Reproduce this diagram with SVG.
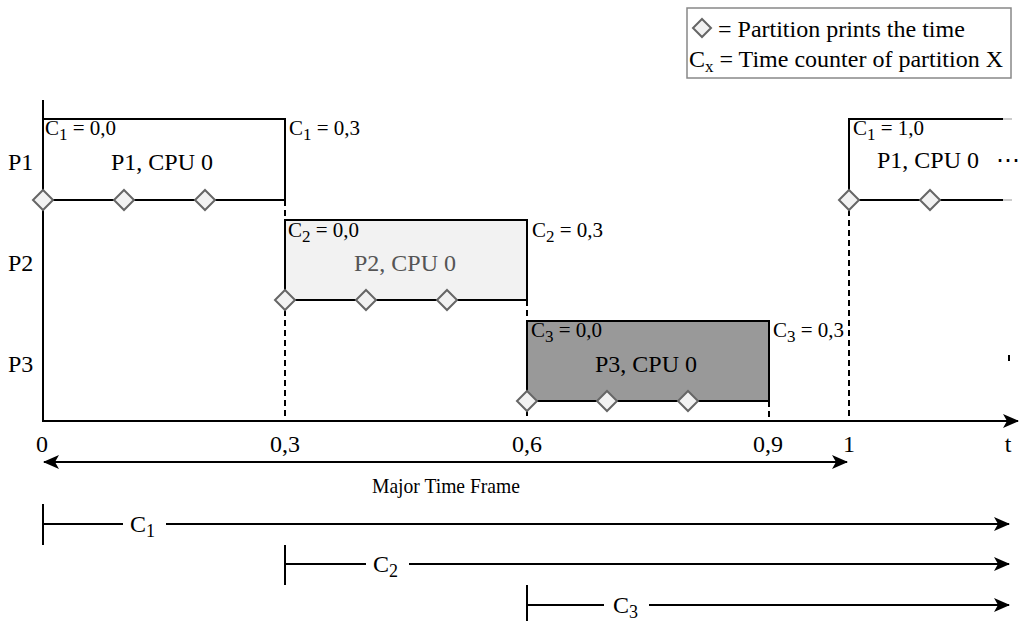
<svg xmlns="http://www.w3.org/2000/svg" width="1021" height="621" viewBox="0 0 1021 621">
<style>
text{font-family:"Liberation Serif","Times New Roman",serif;fill:#000}
.big{font-size:24px}
.sm{font-size:21px}
.mtf{font-size:22px}
.ln{stroke:#000;stroke-width:2;fill:none}
.dash{stroke:#000;stroke-width:2;stroke-dasharray:6 4;fill:none}
.dia{fill:#f2f2f2;stroke:#666;stroke-width:2}
</style>
<defs>
<marker id="ah" markerWidth="16" markerHeight="14" refX="15" refY="7" orient="auto-start-reverse" markerUnits="userSpaceOnUse">
<path d="M0,0 L16,7 L0,14 L4,7 z" fill="#000"/>
</marker>
<path id="d" d="M0,-10 L10,0 L0,10 L-10,0 z"/>
</defs>
<rect width="1021" height="621" fill="#fff"/>

<g id="legend">
<rect x="687" y="8" width="324" height="70" fill="#fff" stroke="#888" stroke-width="1.5"/>
<path class="dia" d="M702,19 L711,28 L702,37 L693,28 z"/>
<text class="big" x="718" y="37">= Partition prints the time</text>
<text class="big" x="689" y="67">C<tspan dy="5" font-size="17">x</tspan><tspan dy="-5"> = Time counter of partition X</tspan></text>
</g>

<g id="row-labels">
<text class="big" x="8" y="170">P1</text>
<text class="big" x="8" y="271">P2</text>
<text class="big" x="8" y="372">P3</text>
</g>

<g id="connectors">
<line class="dash" x1="285" y1="200" x2="285" y2="421"/>
<line class="dash" x1="527" y1="300" x2="527" y2="421"/>
<line class="dash" x1="769" y1="401" x2="769" y2="421"/>
<line class="dash" x1="849" y1="200" x2="849" y2="421"/>
<line class="ln" x1="43" y1="100" x2="43" y2="422"/>
<line class="ln" x1="43" y1="421" x2="1018" y2="421" marker-end="url(#ah)"/>
<line class="ln" x1="44" y1="462" x2="847" y2="462" marker-start="url(#ah)" marker-end="url(#ah)"/>
<line class="ln" x1="1009" y1="355" x2="1009" y2="361" stroke-width="1"/>
</g>

<g id="p1">
<path class="ln" d="M43,119 L285,119 L285,200 L43,200"/>
<text class="sm" x="45" y="135">C<tspan dy="5" font-size="17">1</tspan><tspan dy="-5"> = 0,0</tspan></text>
<text class="sm" x="289" y="135">C<tspan dy="5" font-size="17">1</tspan><tspan dy="-5"> = 0,3</tspan></text>
<text class="big" x="162" y="170" text-anchor="middle">P1, CPU 0</text>
<use href="#d" class="dia" x="43" y="200"/>
<use href="#d" class="dia" x="124" y="200"/>
<use href="#d" class="dia" x="205" y="200"/>
</g>

<g id="p2">
<rect x="285" y="220" width="242" height="80" fill="#f2f2f2" stroke="#000" stroke-width="2"/>
<text class="sm" x="288" y="237">C<tspan dy="5" font-size="17">2</tspan><tspan dy="-5"> = 0,0</tspan></text>
<text class="sm" x="532" y="237">C<tspan dy="5" font-size="17">2</tspan><tspan dy="-5"> = 0,3</tspan></text>
<text class="big" x="405" y="271" text-anchor="middle" style="fill:#555">P2, CPU 0</text>
<use href="#d" class="dia" x="285" y="300"/>
<use href="#d" class="dia" x="366" y="300"/>
<use href="#d" class="dia" x="447" y="300"/>
</g>

<g id="p3">
<rect x="527" y="321" width="242" height="80" fill="#999" stroke="#000" stroke-width="2"/>
<text class="sm" x="531" y="337">C<tspan dy="5" font-size="17">3</tspan><tspan dy="-5"> = 0,0</tspan></text>
<text class="sm" x="773" y="337">C<tspan dy="5" font-size="17">3</tspan><tspan dy="-5"> = 0,3</tspan></text>
<text class="big" x="646" y="372" text-anchor="middle">P3, CPU 0</text>
<use href="#d" class="dia" x="527" y="401"/>
<use href="#d" class="dia" x="607" y="401"/>
<use href="#d" class="dia" x="688" y="401"/>
</g>

<g id="p1-next">
<path class="ln" d="M1003,119 L849,119 L849,200 L1003,200"/>
<line x1="1003" y1="119" x2="1012" y2="119" stroke="#ccc" stroke-width="2"/>
<line x1="1003" y1="200" x2="1012" y2="200" stroke="#ccc" stroke-width="2"/>
<text class="sm" x="853" y="135">C<tspan dy="5" font-size="17">1</tspan><tspan dy="-5"> = 1,0</tspan></text>
<text class="big" x="877" y="168">P1, CPU 0</text>
<text class="big" x="996" y="168">⋯</text>
<use href="#d" class="dia" x="849" y="200"/>
<use href="#d" class="dia" x="930" y="200"/>
</g>

<g id="ticks">
<text class="big" x="42" y="452" text-anchor="middle">0</text>
<text class="big" x="285" y="452" text-anchor="middle">0,3</text>
<text class="big" x="527" y="452" text-anchor="middle">0,6</text>
<text class="big" x="768" y="452" text-anchor="middle">0,9</text>
<text class="big" x="849" y="452" text-anchor="middle">1</text>
<text class="big" x="1008" y="452" text-anchor="middle">t</text>
<text class="mtf" x="372" y="493" textLength="148" lengthAdjust="spacingAndGlyphs">Major Time Frame</text>
</g>

<g id="counters">
<line class="ln" x1="43" y1="504" x2="43" y2="545"/>
<line class="ln" x1="43" y1="524" x2="123" y2="524"/>
<line class="ln" x1="166" y1="524" x2="1009" y2="524" marker-end="url(#ah)"/>
<text class="big" x="130" y="532">C<tspan dy="5" font-size="18">1</tspan></text>

<line class="ln" x1="285" y1="545" x2="285" y2="585"/>
<line class="ln" x1="285" y1="564" x2="366" y2="564"/>
<line class="ln" x1="409" y1="564" x2="1009" y2="564" marker-end="url(#ah)"/>
<text class="big" x="373" y="572">C<tspan dy="5" font-size="18">2</tspan></text>

<line class="ln" x1="527" y1="585" x2="527" y2="621"/>
<line class="ln" x1="527" y1="605" x2="604" y2="605"/>
<line class="ln" x1="649" y1="605" x2="1009" y2="605" marker-end="url(#ah)"/>
<text class="big" x="613" y="613">C<tspan dy="5" font-size="18">3</tspan></text>
</g>
</svg>
